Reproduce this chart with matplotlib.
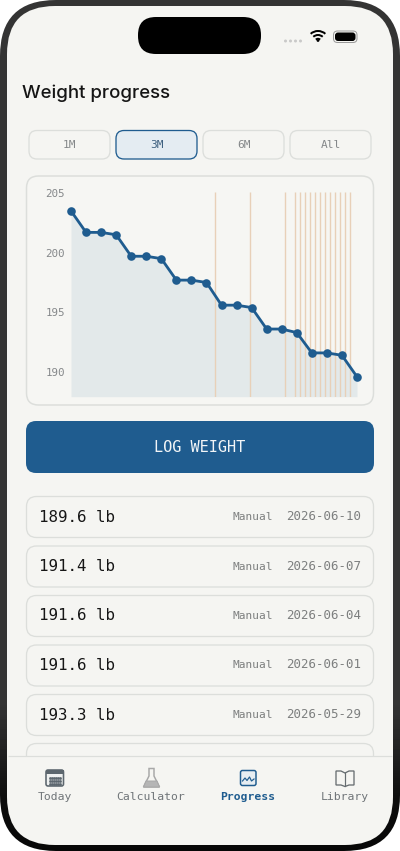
import matplotlib
matplotlib.use('Agg')
import matplotlib.pyplot as plt
from matplotlib.patches import FancyBboxPatch, Rectangle, Circle, Arc, Polygon
import numpy as np

# chart data
days = [0, 3, 6, 9, 12, 15, 18, 21, 24, 27, 30, 33, 36, 39, 42, 45, 48, 51, 54, 57]
weights = [203.5, 201.7, 201.7, 201.5, 199.7, 199.7, 199.5, 197.7, 197.7, 197.5,
           195.6, 195.6, 195.4, 193.6, 193.6, 193.3, 191.6, 191.6, 191.4, 189.6]
dose_days = [28.7, 35.7, 42.7, 44.7, 45.7, 46.7, 47.7, 48.7, 49.7, 50.7, 51.7, 52.7, 53.7, 54.7, 55.7]
y_ticks = [190, 195, 200, 205]

# screen text
title = 'Weight progress'
ranges = ['1M', '3M', '6M', 'All']
entry_weights = ['189.6 lb', '191.4 lb', '191.6 lb', '191.6 lb', '193.3 lb']
entry_sources = ['Manual', 'Manual', 'Manual', 'Manual', 'Manual']
entry_dates = ['2026-06-10', '2026-06-07', '2026-06-04', '2026-06-01', '2026-05-29']
tabs = ['Today', 'Calculator', 'Progress', 'Library']

BG = '#f5f5f2'
BORDER = '#dcdedb'
BLUE = '#1f5c8f'
GREY = '#7d7f7f'
MONO = 'DejaVu Sans Mono'
W, H = 400, 851


def px(v):
    return v * 0.72


fig = plt.figure(figsize=(W / 100, H / 100), dpi=100, facecolor='white')
ui = fig.add_axes([0, 0, 1, 1])
ui.axis('off')


def box(x0, y0, x1, y1, r, fc, ec='none', lw=0, z=1):
    p = FancyBboxPatch((x0 + r, y0 + r), x1 - x0 - 2 * r, y1 - y0 - 2 * r,
                       boxstyle='round,pad=%f,rounding_size=%f' % (r, r),
                       fc=fc, ec=ec, lw=px(lw), zorder=z)
    ui.add_patch(p)
    return p


# phone frame, dark grey going to black at the bottom
frame = box(0, 0, 400, 851, 56, 'none')
shade = np.interp(np.arange(H), [0, 700, 800, 851], [0.21, 0.21, 0.05, 0.03]).reshape(-1, 1)
im = ui.imshow(shade, cmap='gray', vmin=0, vmax=1, extent=[0, W, H, 0], aspect='auto', zorder=1)
im.set_clip_path(frame)
ui.set_xlim(0, W)
ui.set_ylim(H, 0)
box(7, 6, 393, 845, 48, BG, z=2)
box(138, 17, 261, 54, 18, 'black', z=3)

# status bar
for x in [285.5, 290.5, 295.5, 300.5]:
    ui.add_patch(Circle((x, 41), 1.5, fc='#c9c9c9', zorder=3))
for r, lw in [(11, 2.0), (7, 2.0), (3.2, 2.0)]:
    ui.add_patch(Arc((318, 42), 2 * r, 2 * r, theta1=228, theta2=312, ec='black', lw=px(lw), zorder=3))
ui.add_patch(Circle((318, 40.5), 1.4, fc='black', zorder=3))
box(333.5, 31, 357, 42.5, 4, 'none', '#9a9a9a', 1, z=3)
box(335, 32.5, 355.5, 41, 3, 'black', z=3)

ui.text(22, 98, title, fontsize=px(18.6), family='Inter', weight='medium', color='#151515',
        ha='left', va='baseline', zorder=4)

# range buttons
for i, label in enumerate(ranges):
    x0 = 29 + i * 87
    active = label == '3M'
    box(x0, 130.5, x0 + 81, 159, 8, '#e4ecf2' if active else BG, BLUE if active else BORDER,
        1.3, z=3)
    ui.text(x0 + 40.5, 145, label, fontsize=8, family=MONO, color='#3f6180' if active else '#85888a',
            ha='center', va='center', zorder=4)

# chart card
box(26.5, 176, 373.5, 405, 12, '#f6f6f3', BORDER, 1.5, z=3)

# log button
box(26, 421, 374, 473, 10, BLUE, z=3)
ui.text(200, 448, 'LOG WEIGHT', fontsize=11, family=MONO, color='#f2f5f7', ha='center', va='center', zorder=4)

# entries
row_tops = [496.5, 546, 595.5, 645, 694.5]
for top, w, s, d in zip(row_tops, entry_weights, entry_sources, entry_dates):
    box(26.5, top, 373.5, top + 41, 10, BG, BORDER, 1.3, z=3)
    ui.text(39, top + 20.5, w, fontsize=11.4, family=MONO, color='#161616', ha='left', va='center', zorder=4)
    ui.text(273, top + 20.5, s, fontsize=8, family=MONO, color=GREY, ha='right', va='center', zorder=4)
    ui.text(361, top + 20, d, fontsize=9, family=MONO, color=GREY, ha='right', va='center', zorder=4)
box(26.5, 743.5, 373.5, 785, 10, BG, BORDER, 1.3, z=3)

# tab bar, covers the cut off row
ui.add_patch(Rectangle((8, 756), 384, 50, fc=BG, zorder=5))
ui.plot([8, 392], [756, 756], color=BORDER, lw=px(1.2), solid_capstyle='butt', zorder=6)
tab_x = [55, 151, 248, 345]
for x, label in zip(tab_x, tabs):
    active = label == 'Progress'
    ui.text(x, 797, label, fontsize=8.2, family=MONO, color=BLUE if active else '#6f7478',
            weight='bold' if active else 'normal', ha='center', va='center', zorder=7)

# today icon
box(46, 770, 63.5, 786, 2, '#eef0f0', '#5c666e', 1.6, z=6)
ui.add_patch(Rectangle((46, 770), 17.5, 4, fc='#5c666e', zorder=6))
for yy in [778, 781, 784]:
    ui.plot([50, 52, 54, 56, 58, 60], [yy] * 6, ls='none', marker='s', ms=0.9, color='#5c666e', zorder=7)

# flask icon
ui.add_patch(Polygon([[149, 768.5], [149, 776], [143.5, 787], [159.5, 787], [154, 776], [154, 768.5]],
                     closed=True, fc=BG, ec='#a8a8a8', lw=px(1.5), zorder=6))
ui.add_patch(Polygon([[146, 781], [157, 781], [159.5, 787], [143.5, 787]], closed=True, fc='#b5b5b5', ec='#a8a8a8',
                     lw=px(1), zorder=6))

# progress icon
box(240.5, 770.5, 256, 785.5, 2, '#e6edf2', BLUE, 1.5, z=6)
ui.plot([242.5, 245, 247, 249.5, 251.5, 254], [781, 778, 780.5, 777, 781, 779], color=BLUE, lw=px(1.2), zorder=7)

# library icon
book = '#666c70'
ui.add_patch(Polygon([[345, 773], [341, 771], [336, 771], [336, 785], [341, 785], [345, 786.5],
                      [349, 785], [354, 785], [354, 771], [349, 771]], closed=True, fc='none', ec=book,
                     lw=px(1.3), zorder=6))
ui.plot([345, 345], [773, 786], color=book, lw=px(1.2), zorder=6)

# weight chart, axes spans plot area in pixels
x0, x1, y0, y1 = 71, 357, 191.7, 396.7
ax = fig.add_axes([x0 / W, 1 - y1 / H, (x1 - x0) / W, (y1 - y0) / H])
ax.patch.set_alpha(0)
ax.set_zorder(2)
ax.set_xlim(0, 57)
ax.set_ylim(187.93, 205.11)
ax.fill_between(days, weights, 187.93, color='#e3e9ea', lw=0, zorder=1)
ax.vlines(dose_days, 187.93, 205.11, color='#e8d0b8', lw=px(1.4), zorder=2)
ax.plot(days, weights, color=BLUE, lw=px(2.8), marker='o', ms=px(8.6), mew=0, clip_on=False, zorder=3)
ax.set_xticks([])
ax.set_yticks(y_ticks)
ax.tick_params(axis='y', length=0, pad=px(6), labelsize=7.8, labelcolor='#85888a')
for t in ax.get_yticklabels():
    t.set_family(MONO)
for s in ax.spines.values():
    s.set_visible(False)

fig.savefig('out.png', dpi=100)
